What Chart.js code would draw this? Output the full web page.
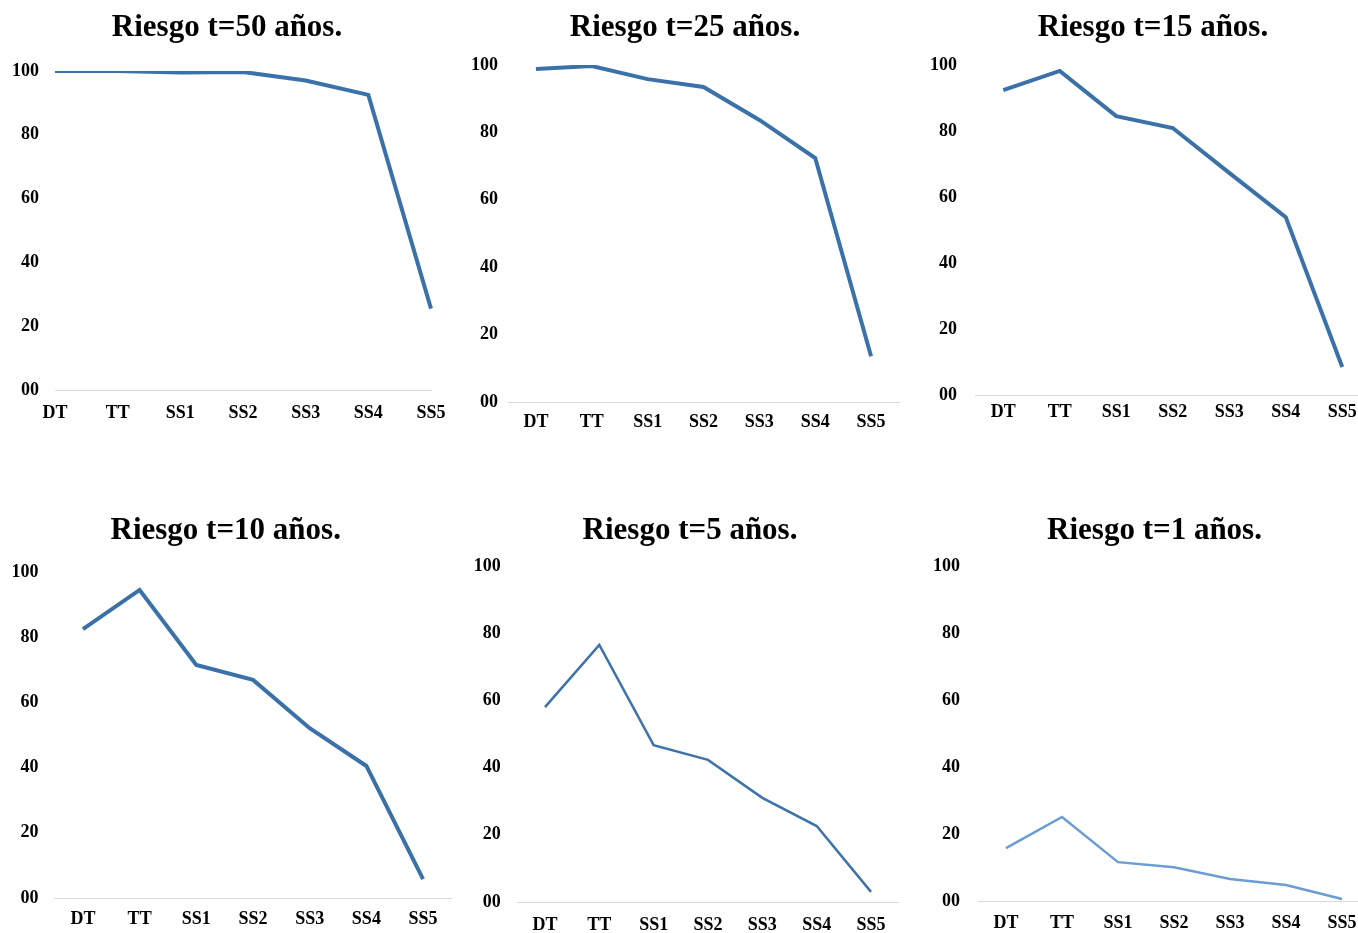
<!DOCTYPE html>
<html>
<head>
<meta charset="utf-8">
<script src="https://cdn.jsdelivr.net/npm/chart.js@4.4.1/dist/chart.umd.min.js"></script>
<style>
  html, body { margin: 0; padding: 0; background: #fff; overflow: hidden; }
  body { width: 1358px; height: 933px; position: relative; }
  .panel { position: absolute; }
</style>
</head>
<body>
<div class="panel" id="p1"><canvas id="c1"></canvas></div>
<div class="panel" id="p2"><canvas id="c2"></canvas></div>
<div class="panel" id="p3"><canvas id="c3"></canvas></div>
<div class="panel" id="p4"><canvas id="c4"></canvas></div>
<div class="panel" id="p5"><canvas id="c5"></canvas></div>
<div class="panel" id="p6"><canvas id="c6"></canvas></div>
<script>
const categories = ['DT', 'TT', 'SS1', 'SS2', 'SS3', 'SS4', 'SS5'];
const yTicks = [0, 20, 40, 60, 80, 100];

const titles = ['Riesgo t=50 años.', 'Riesgo t=25 años.', 'Riesgo t=15 años.',
                'Riesgo t=10 años.', 'Riesgo t=5 años.', 'Riesgo t=1 años.'];

// risk values
const risk50 = [100, 100, 99.5, 99.7, 97, 92.5, 25.5];
const risk25 = [98.8, 99.7, 95.8, 93.5, 83.7, 72.4, 13.6];
const risk15 = [92.4, 98.2, 84.5, 80.9, 67.3, 53.9, 8.5];
const risk10 = [82.5, 94.5, 71.5, 66.9, 52.1, 40.5, 5.8];
const risk5 = [58.0, 76.5, 46.7, 42.3, 31.0, 22.6, 3.0];
const risk1 = [15.8, 25.1, 11.6, 10.1, 6.6, 4.8, 0.6];

const SERIF = '"Liberation Serif", "Times New Roman", serif';

// box of each panel; yW = left axis width, rW = empty right strip (moves the title)
const panels = [
  { id: 'c1', box: 'p1', data: risk50, left: 0, top: 0, width: 462, height: 426, padL: 8, padR: 16, yW: 47, rW: 15, pb: 24.8, yPad: 16, xPad: 13, offset: false, color: '#3b71a9', lw: 4 },
  { id: 'c2', box: 'p2', data: risk25, left: 460, top: 0, width: 443, height: 438, padL: 8, padR: 1, yW: 40, rW: 3, pb: 18.8, yPad: 10, xPad: 10, offset: true, color: '#3b71a9', lw: 4 },
  { id: 'c3', box: 'p3', data: risk15, left: 920, top: 0, width: 460, height: 431, padL: 7, padR: 1, yW: 48, rW: 8.5, pb: 18.8, yPad: 18, xPad: 7, offset: true, color: '#3b71a9', lw: 4 },
  { id: 'c4', box: 'p4', data: risk10, left: -1, top: 503, width: 454.4, height: 431, padL: 0, padR: 1, yW: 55.6, rW: 0, pb: 22.8, yPad: 16, xPad: 11, offset: true, color: '#3b71a9', lw: 4 },
  { id: 'c5', box: 'p5', data: risk5, left: 462, top: 503, width: 449, height: 435, padL: 8, padR: 1, yW: 47.8, rW: 11.8, pb: 16.8, yPad: 17, xPad: 13, offset: true, color: '#3e73aa', lw: 2.5 },
  { id: 'c6', box: 'p6', data: risk1, left: 922, top: 503, width: 458, height: 434, padL: 8, padR: 1, yW: 48, rW: 9, pb: 16.8, yPad: 18, xPad: 12, offset: true, color: '#6b9dd2', lw: 2.5 },
];

const X_AXIS_H = 36;

panels.forEach((p, i) => {
  const box = document.getElementById(p.box);
  box.style.left = p.left + 'px';
  box.style.top = p.top + 'px';
  box.style.width = p.width + 'px';
  box.style.height = p.height + 'px';

  new Chart(document.getElementById(p.id), {
    type: 'line',
    data: {
      labels: categories,
      datasets: [{
        data: p.data,
        borderColor: p.color,
        borderWidth: p.lw,
        pointRadius: 0,
        tension: 0,
        fill: false,
      }],
    },
    options: {
      responsive: true,
      maintainAspectRatio: false,
      animation: false,
      layout: { padding: { left: p.padL, right: p.padR, top: 0, bottom: 0 } },
      plugins: {
        legend: { display: false },
        tooltip: { enabled: false },
        title: {
          display: true,
          text: titles[i],
          color: '#000',
          font: { family: SERIF, size: 31, weight: 'bold', lineHeight: 1.2 },
          padding: { top: 9, bottom: p.pb },
        },
      },
      scales: {
        x: {
          offset: p.offset,
          grid: { display: false, drawTicks: false },
          border: { display: true, color: '#d9d9d9', width: 1 },
          ticks: {
            color: '#000',
            padding: p.xPad,
            maxRotation: 0,
            autoSkip: false,
            font: { family: SERIF, size: 18, weight: 'bold' },
          },
          afterFit: (scale) => { scale.height = X_AXIS_H; },
        },
        y: {
          min: 0,
          max: 100,
          grid: { display: false, drawTicks: false },
          border: { display: false },
          afterBuildTicks: (scale) => { scale.ticks = yTicks.map(v => ({ value: v })); },
          ticks: {
            color: '#000',
            padding: p.yPad,
            font: { family: SERIF, size: 18, weight: 'bold' },
            callback: (v) => String(v).padStart(2, '0'),
          },
          afterFit: (scale) => { scale.width = p.yW; },
        },
        // empty strip on the right, only used to place the title like the original
        yR: {
          display: true,
          position: 'right',
          min: 0,
          max: 100,
          grid: { display: false, drawTicks: false },
          border: { display: false },
          ticks: { display: false },
          afterFit: (scale) => { scale.width = p.rW; },
        },
      },
    },
  });
});
</script>
</body>
</html>
